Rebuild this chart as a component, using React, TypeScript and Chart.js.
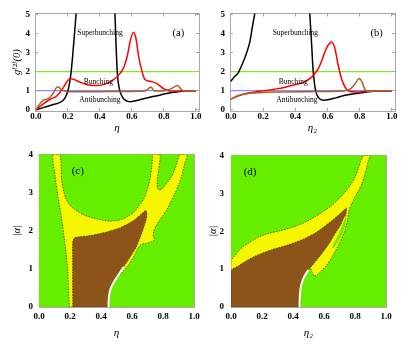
import React, { useEffect, useRef } from 'react';
import { Chart, registerables } from 'chart.js';

Chart.register(...registerables);

const SERIF = "'Liberation Serif', 'DejaVu Serif', 'Times New Roman', serif";

// ---------- tick labels ----------
const etaTicks = [0, 0.2, 0.4, 0.6, 0.8, 1.0];
const gTicks = [0, 1, 2, 3, 4, 5];
const alphaTicks = [0, 1, 2, 3, 4];

// ---------- reference levels ----------
const levelX = [0, 1];
const coherentY = [1, 1];
const bunchingY = [2, 2];

// ---------- panel (a) ----------
const aBlackX = [0, 0.05, 0.1, 0.15, 0.18, 0.2, 0.21, 0.22, 0.23, 0.24, 0.25, 0.26, 0.485, 0.494, 0.498, 0.502, 0.506, 0.512, 0.52, 0.53, 0.55, 0.57, 0.59, 0.62, 0.66, 0.7, 0.75, 0.8, 0.85, 0.9, 0.95, 1.0];
const aBlackY = [0, 0.12, 0.25, 0.38, 0.6, 1.0, 1.4, 2.0, 2.9, 3.9, 5.0, 6.5, 6.5, 5.0, 4.0, 3.1, 2.3, 1.6, 1.15, 0.85, 0.55, 0.45, 0.42, 0.46, 0.55, 0.63, 0.72, 0.82, 0.9, 0.96, 0.99, 1.0];
const aRedX = [0, 0.025, 0.05, 0.09, 0.13, 0.17, 0.195, 0.215, 0.24, 0.275, 0.31, 0.34, 0.38, 0.42, 0.46, 0.5, 0.53, 0.55, 0.57, 0.59, 0.61, 0.625, 0.64, 0.66, 0.68, 0.71, 0.735, 0.76, 0.8, 0.83, 0.86, 0.9, 1.0];
const aRedY = [0, 0.17, 0.33, 0.55, 0.72, 1.15, 1.5, 1.64, 1.58, 1.45, 1.34, 1.28, 1.27, 1.32, 1.45, 1.68, 1.95, 2.25, 2.8, 3.65, 4.08, 3.75, 2.9, 2.1, 1.6, 1.5, 1.45, 1.35, 1.09, 0.99, 0.97, 0.98, 1.0];
const aBrownX = [0, 0.015, 0.046, 0.077, 0.108, 0.133, 0.145, 0.16, 0.19, 0.25, 0.4, 0.55, 0.65, 0.69, 0.717, 0.74, 0.77, 0.8, 0.84, 0.865, 0.885, 0.9, 0.92, 0.95, 1.0];
const aBrownY = [0, 0.2, 0.5, 0.58, 0.87, 1.2, 1.18, 1.04, 0.96, 0.94, 0.95, 0.96, 0.97, 1.02, 1.2, 1.0, 0.98, 1.0, 1.08, 1.2, 1.27, 1.15, 1.0, 0.99, 1.0];

// ---------- panel (b) ----------
const bBlackX = [0, 0.02, 0.045, 0.065, 0.087, 0.105, 0.118, 0.13, 0.14, 0.148, 0.16, 0.48, 0.49, 0.5, 0.51, 0.52, 0.53, 0.545, 0.56, 0.575, 0.6, 0.65, 0.71, 0.79, 0.87, 0.93, 1.0];
const bBlackY = [1.5, 1.72, 1.94, 2.3, 2.75, 3.2, 3.6, 4.2, 4.7, 5.1, 6.5, 6.5, 5.0, 3.6, 2.1, 1.3, 0.87, 0.62, 0.53, 0.5, 0.52, 0.62, 0.76, 0.87, 0.96, 0.99, 1.0];
const bRedX = [0, 0.05, 0.1, 0.15, 0.2, 0.27, 0.33, 0.376, 0.42, 0.46, 0.505, 0.525, 0.542, 0.565, 0.584, 0.605, 0.625, 0.645, 0.667, 0.688, 0.708, 0.729, 0.76, 0.8, 0.84, 0.9, 1.0];
const bRedY = [0.55, 0.75, 0.86, 0.93, 0.99, 1.08, 1.17, 1.27, 1.36, 1.48, 1.74, 1.95, 2.15, 2.6, 3.05, 3.42, 3.57, 3.25, 2.3, 1.6, 1.2, 0.99, 0.94, 0.93, 0.97, 0.99, 1.0];
const bBrownX = [0, 0.02, 0.05, 0.1, 0.15, 0.2, 0.3, 0.45, 0.6, 0.7, 0.74, 0.77, 0.797, 0.815, 0.83, 0.845, 0.9, 1.0];
const bBrownY = [0.55, 0.65, 0.75, 0.84, 0.88, 0.91, 0.93, 0.95, 0.96, 0.98, 1.08, 1.35, 1.64, 1.45, 1.1, 0.97, 0.99, 1.0];

// ---------- panel (c) regions ----------
const cYellowX = [0.196, 0.19, 0.185, 0.175, 0.163, 0.15, 0.135, 0.12, 0.105, 0.09, 0.135, 0.146, 0.168, 0.19, 0.22, 0.286, 0.372, 0.458, 0.52, 0.566, 0.61, 0.645, 0.673, 0.69, 0.705, 0.72, 0.728, 0.737, 0.78, 0.772, 0.762, 0.765, 0.776, 0.795, 0.813, 0.835, 0.856, 0.875, 0.89, 0.91, 0.957, 0.94, 0.92, 0.9, 0.877, 0.85, 0.824, 0.8, 0.78, 0.755, 0.74, 0.738, 0.745, 0.72, 0.69, 0.66, 0.64, 0.615, 0.58, 0.545, 0.525, 0.51, 0.485, 0.462, 0.45, 0.447, 0.196];
const cYellowY = [0, 0.5, 1.0, 1.4, 1.8, 2.2, 2.6, 2.95, 3.4, 4.0, 4.0, 3.33, 2.9, 2.72, 2.59, 2.42, 2.31, 2.25, 2.28, 2.36, 2.48, 2.65, 2.81, 2.98, 3.16, 3.45, 3.7, 4.0, 4.0, 3.6, 3.3, 3.12, 3.07, 3.1, 3.18, 3.3, 3.42, 3.6, 3.78, 4.0, 4.0, 3.76, 3.42, 3.2, 2.98, 2.75, 2.55, 2.4, 2.29, 2.12, 1.98, 1.85, 1.76, 1.7, 1.67, 1.64, 1.56, 1.35, 1.12, 0.95, 0.86, 0.84, 0.68, 0.5, 0.3, 0, 0];
const cBrownX = [0.218, 0.217, 0.217, 0.218, 0.232, 0.31, 0.39, 0.458, 0.52, 0.566, 0.615, 0.65, 0.675, 0.69, 0.696, 0.692, 0.675, 0.655, 0.625, 0.595, 0.55, 0.51, 0.485, 0.462, 0.45, 0.447, 0.447, 0.218];
const cBrownY = [0, 0.6, 1.2, 1.72, 1.82, 1.86, 1.92, 1.99, 2.07, 2.16, 2.28, 2.4, 2.49, 2.53, 2.45, 2.3, 2.08, 1.85, 1.55, 1.35, 1.07, 0.84, 0.68, 0.5, 0.3, 0.12, 0, 0];
const cWhiteX = [0.449, 0.449, 0.452, 0.464, 0.487, 0.512, 0.53, 0.548];
const cWhiteY = [0, 0.12, 0.3, 0.5, 0.68, 0.84, 0.95, 1.05];

// ---------- panel (d) regions ----------
const dYellowX = [0, 0, 0.02, 0.047, 0.08, 0.112, 0.15, 0.198, 0.25, 0.305, 0.37, 0.434, 0.49, 0.542, 0.6, 0.65, 0.695, 0.735, 0.77, 0.8, 0.825, 0.854, 0.897, 0.885, 0.875, 0.86, 0.843, 0.822, 0.8, 0.778, 0.762, 0.752, 0.735, 0.7, 0.655, 0.62, 0.59, 0.56, 0.535, 0.51, 0.485, 0.467, 0.452, 0.445, 0.44, 0, 0];
const dYellowY = [0.9, 1.23, 1.33, 1.47, 1.6, 1.68, 1.78, 1.88, 1.95, 2.0, 2.07, 2.16, 2.26, 2.38, 2.53, 2.68, 2.85, 3.03, 3.22, 3.42, 3.7, 4.0, 4.0, 3.85, 3.67, 3.45, 3.24, 3.06, 2.9, 2.72, 2.55, 2.3, 2.03, 1.68, 1.34, 1.12, 0.98, 0.86, 0.82, 1.03, 0.9, 0.77, 0.6, 0.43, 0, 0, 0.9];
const dGapX = [0.749, 0.741, 0.722, 0.695, 0.66, 0.652, 0.68, 0.708, 0.734, 0.749];
const dGapY = [2.55, 2.25, 1.98, 1.76, 1.55, 1.58, 1.8, 2.05, 2.33, 2.55];
const dBrownX = [0, 0, 0.047, 0.1, 0.155, 0.263, 0.37, 0.477, 0.535, 0.585, 0.64, 0.692, 0.725, 0.746, 0.74, 0.725, 0.705, 0.68, 0.655, 0.628, 0.595, 0.563, 0.535, 0.51, 0.485, 0.467, 0.452, 0.445, 0.441, 0.44, 0];
const dBrownY = [0, 0.95, 1.08, 1.22, 1.34, 1.51, 1.64, 1.81, 1.93, 2.07, 2.24, 2.42, 2.54, 2.61, 2.45, 2.33, 2.15, 1.99, 1.82, 1.64, 1.46, 1.29, 1.15, 1.03, 0.9, 0.77, 0.6, 0.43, 0.2, 0, 0];
const dWhiteX = [0.442, 0.443, 0.447, 0.454, 0.469, 0.487, 0.5];
const dWhiteY = [0, 0.2, 0.43, 0.6, 0.77, 0.9, 0.98];

// ---------- colours ----------
const BLACK = '#000000';
const RED = '#ff0000';
const BROWN_LINE = '#a5652a';
const BLUE_LEVEL = '#8c8cff';
const GREEN_LEVEL = '#7ce82c';
const AREA_GREEN = '#66ee00';
const AREA_YELLOW = '#f6f600';
const AREA_BROWN = '#8c5419';
const FRAME = '#a8a8a8';

const pts = (xs: number[], ys: number[]) => xs.map((x, i) => ({ x, y: ys[i] }));

const curve = (xs: number[], ys: number[], color: string, width = 1.5) => ({
  data: pts(xs, ys),
  borderColor: color,
  borderWidth: width,
  pointRadius: 0,
  fill: false,
  cubicInterpolationMode: 'monotone' as const,
});

const level = (xs: number[], ys: number[], color: string) => ({
  data: pts(xs, ys),
  borderColor: color,
  borderWidth: 1.2,
  pointRadius: 0,
  fill: false,
  tension: 0,
});

const region = (xs: number[], ys: number[], color: string, edge = true) => ({
  data: pts(xs, ys),
  backgroundColor: color,
  borderColor: edge ? 'rgba(35,35,35,0.85)' : 'rgba(0,0,0,0)',
  borderWidth: edge ? 0.8 : 0,
  borderDash: [1.4, 1.4],
  pointRadius: 0,
  fill: 'shape',
  tension: 0.25,
});

const whiteEdge = (xs: number[], ys: number[]) => ({
  data: pts(xs, ys),
  borderColor: '#ffffff',
  borderWidth: 2,
  pointRadius: 0,
  fill: false,
  tension: 0.3,
});

type Lay = {
  xMin: number; xMax: number; yMin: number; yMax: number;
  yTicks: number[];
  yWidth: number; xHeight: number; padTop: number; padRight: number;
  xTickPad: number; yTickPad: number; xTitlePad: number; yTitlePad: number;
  xTitle: string; yTitle?: string;
};

const tickFont = { family: SERIF, size: 9, weight: 'bold' as const };
const setTicks = (vals: number[]) => (s: any) => { s.ticks = vals.map((v) => ({ value: v })); };

function buildScales(L: Lay) {
  const gridCfg = { drawOnChartArea: false, drawTicks: true, tickLength: -3, color: FRAME, lineWidth: 1 };
  return {
    x: {
      type: 'linear', position: 'bottom', min: L.xMin, max: L.xMax, z: 1,
      afterBuildTicks: setTicks(etaTicks),
      afterFit: (s: any) => { s.height = L.xHeight; },
      ticks: { font: tickFont, color: '#000', padding: L.xTickPad, maxRotation: 0, autoSkip: false, callback: (v: any) => Number(v).toFixed(1) },
      grid: gridCfg,
      border: { display: true, color: FRAME },
      title: { display: true, text: L.xTitle, color: '#000', font: { family: SERIF, size: 11, style: 'italic' }, padding: { top: 0, bottom: L.xTitlePad } },
    },
    x2: {
      type: 'linear', position: 'top', min: L.xMin, max: L.xMax, z: 1,
      afterBuildTicks: setTicks(etaTicks),
      afterFit: (s: any) => { s.height = 0; },
      ticks: { display: false },
      grid: gridCfg,
      border: { display: true, color: FRAME },
    },
    y: {
      type: 'linear', position: 'left', min: L.yMin, max: L.yMax, z: 1,
      afterBuildTicks: setTicks(L.yTicks),
      afterFit: (s: any) => { s.width = L.yWidth; },
      ticks: { font: tickFont, color: '#000', padding: L.yTickPad, autoSkip: false, callback: (v: any) => String(Math.round(Number(v))) },
      grid: gridCfg,
      border: { display: true, color: FRAME },
      title: { display: !!L.yTitle, text: L.yTitle || '', color: '#000', font: { family: SERIF, size: 10.5, style: 'italic' }, padding: { top: L.yTitlePad, bottom: 0 } },
    },
    y2: {
      type: 'linear', position: 'right', min: L.yMin, max: L.yMax, z: 1,
      afterBuildTicks: setTicks(L.yTicks),
      afterFit: (s: any) => { s.width = 0; },
      ticks: { display: false },
      grid: gridCfg,
      border: { display: true, color: FRAME },
    },
  };
}

type Note = { text: string; x: number; y: number; size: number };

const notesPlugin = (notes: Note[]) => ({
  id: 'notes',
  afterDatasetsDraw(chart: any) {
    const { ctx } = chart;
    const xs = chart.scales.x;
    const ys = chart.scales.y;
    ctx.save();
    ctx.fillStyle = '#000';
    ctx.textAlign = 'center';
    ctx.textBaseline = 'middle';
    for (const n of notes) {
      ctx.font = `${n.size}px ${SERIF}`;
      ctx.fillText(n.text, xs.getPixelForValue(n.x), ys.getPixelForValue(n.y));
    }
    ctx.restore();
  },
});

const areaPlugin = (color: string) => ({
  id: 'areaFill',
  beforeDatasetsDraw(chart: any) {
    const { ctx, chartArea: a } = chart;
    ctx.save();
    ctx.fillStyle = color;
    ctx.fillRect(a.left, a.top, a.right - a.left, a.bottom - a.top);
    ctx.restore();
  },
});

function makeConfig(L: Lay, datasets: any[], plugins: any[]) {
  return {
    type: 'line',
    data: { datasets },
    options: {
      responsive: false,
      animation: false,
      events: [],
      layout: { padding: { top: L.padTop, right: L.padRight, left: 0, bottom: 0 }, autoPadding: false },
      plugins: { legend: { display: false }, tooltip: { enabled: false } },
      scales: buildScales(L),
    },
    plugins,
  } as any;
}

const layA: Lay = { xMin: -0.006, xMax: 1.019, yMin: -0.07, yMax: 5.07, yTicks: gTicks, yWidth: 35, xHeight: 29, padTop: 6, padRight: 8, xTickPad: 3, yTickPad: 8, xTitlePad: 5, yTitlePad: 11, xTitle: 'η', yTitle: 'g⁽²⁾(0)' };
const layB: Lay = { xMin: -0.006, xMax: 1.019, yMin: -0.07, yMax: 5.07, yTicks: gTicks, yWidth: 23, xHeight: 29, padTop: 6, padRight: 20, xTickPad: 3, yTickPad: 8, xTitlePad: 5, yTitlePad: 0, xTitle: 'η₂' };
const layC: Lay = { xMin: 0, xMax: 1, yMin: 0, yMax: 4, yTicks: alphaTicks, yWidth: 39, xHeight: 37, padTop: 12, padRight: 13, xTickPad: 7, yTickPad: 9, xTitlePad: 4, yTitlePad: 11, xTitle: 'η', yTitle: '|α|' };
const layD: Lay = { xMin: 0, xMax: 1, yMin: 0, yMax: 4, yTicks: alphaTicks, yWidth: 24, xHeight: 37, padTop: 12, padRight: 29, xTickPad: 7, yTickPad: 10, xTitlePad: 4, yTitlePad: 0, xTitle: 'η₂', yTitle: '|α|' };

const buildA = () => makeConfig(layA, [
  curve(aBrownX, aBrownY, BROWN_LINE),
  curve(aRedX, aRedY, RED),
  curve(aBlackX, aBlackY, BLACK),
  level(levelX, bunchingY, GREEN_LEVEL),
  level(levelX, coherentY, BLUE_LEVEL),
], [notesPlugin([
  { text: 'Superbunching', x: 0.4, y: 4.04, size: 7.5 },
  { text: '(a)', x: 0.89, y: 4.04, size: 10.5 },
  { text: 'Bunching', x: 0.39, y: 1.48, size: 7.5 },
  { text: 'Antibunching', x: 0.4, y: 0.5, size: 7.5 },
])]);

const buildB = () => makeConfig(layB, [
  curve(bBrownX, bBrownY, BROWN_LINE),
  curve(bRedX, bRedY, RED),
  curve(bBlackX, bBlackY, BLACK),
  level(levelX, bunchingY, GREEN_LEVEL),
  level(levelX, coherentY, BLUE_LEVEL),
], [notesPlugin([
  { text: 'Superbunching', x: 0.4, y: 4.03, size: 7.5 },
  { text: '(b)', x: 0.905, y: 4.04, size: 10.5 },
  { text: 'Bunching', x: 0.387, y: 1.48, size: 7.5 },
  { text: 'Antibunching', x: 0.41, y: 0.5, size: 7.5 },
])]);

const buildC = () => makeConfig(layC, [
  whiteEdge(cWhiteX, cWhiteY),
  region(cBrownX, cBrownY, AREA_BROWN),
  region(cYellowX, cYellowY, AREA_YELLOW),
], [areaPlugin(AREA_GREEN), notesPlugin([{ text: '(c)', x: 0.25, y: 3.57, size: 11 }])]);

const buildD = () => makeConfig(layD, [
  whiteEdge(dWhiteX, dWhiteY),
  region(dBrownX, dBrownY, AREA_BROWN),
  region(dGapX, dGapY, AREA_GREEN, false),
  region(dYellowX, dYellowY, AREA_YELLOW),
], [areaPlugin(AREA_GREEN), notesPlugin([{ text: '(d)', x: 0.123, y: 3.57, size: 11 }])]);

function Panel({ left, top, width, height, build }: { left: number; top: number; width: number; height: number; build: () => any }) {
  const ref = useRef<HTMLCanvasElement>(null);
  useEffect(() => {
    const chart = new Chart(ref.current as HTMLCanvasElement, build());
    return () => chart.destroy();
  }, []);
  return (
    <canvas
      ref={ref}
      width={width}
      height={height}
      style={{ position: 'absolute', left, top, width, height }}
    />
  );
}

export default function App() {
  return (
    <div style={{ position: 'absolute', left: 0, top: 0, width: 415, height: 344, background: '#fff', overflow: 'hidden' }}>
      <Panel left={0} top={0} width={207} height={140} build={buildA} />
      <Panel left={207} top={0} width={208} height={140} build={buildB} />
      <Panel left={0} top={140} width={207} height={204} build={buildC} />
      <Panel left={207} top={140} width={208} height={204} build={buildD} />
    </div>
  );
}
